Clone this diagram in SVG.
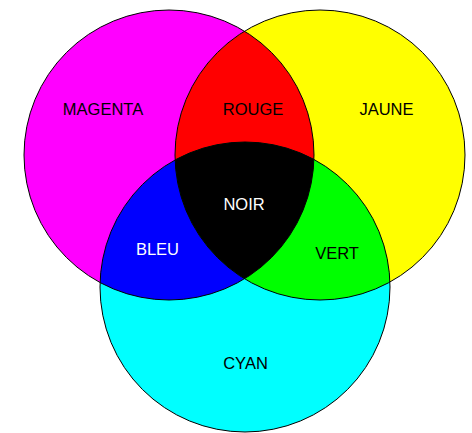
<svg xmlns="http://www.w3.org/2000/svg" width="472" height="433" viewBox="0 0 472 433">
<style>
text{font-family:"Liberation Sans",Arial,sans-serif;font-size:16.5px;text-anchor:middle;fill:#000}
.w{fill:#fff}
.o{fill:none;stroke:#000;stroke-width:1}
</style>
<defs>
<clipPath id="cm"><circle cx="169" cy="155" r="145"/></clipPath>
<clipPath id="cy"><circle cx="320" cy="155" r="145"/></clipPath>
</defs>
<rect width="472" height="433" fill="#fff"/>
<g id="magenta"><circle cx="169" cy="155" r="145" fill="#ff00ff"/><text x="103" y="115">MAGENTA</text></g>
<g id="jaune"><circle cx="320" cy="155" r="145" fill="#ffff00"/><text x="386.5" y="115">JAUNE</text></g>
<g id="cyan"><circle cx="245" cy="287" r="145" fill="#00ffff"/><text x="245.5" y="369">CYAN</text></g>
<g id="rouge"><circle cx="320" cy="155" r="145" fill="#ff0000" clip-path="url(#cm)"/><text x="253" y="115">ROUGE</text></g>
<g id="bleu"><circle cx="245" cy="287" r="145" fill="#0000ff" clip-path="url(#cm)"/><text class="w" x="157.5" y="255">BLEU</text></g>
<g id="vert"><circle cx="245" cy="287" r="145" fill="#00ff00" clip-path="url(#cy)"/><text x="337" y="259">VERT</text></g>
<g id="noir"><g clip-path="url(#cy)"><circle cx="245" cy="287" r="145" fill="#000" clip-path="url(#cm)"/></g><text class="w" x="244" y="210">NOIR</text></g>
<g id="outlines">
<circle class="o" cx="169" cy="155" r="145"/>
<circle class="o" cx="320" cy="155" r="145"/>
<circle class="o" cx="245" cy="287" r="145"/>
</g>
</svg>
